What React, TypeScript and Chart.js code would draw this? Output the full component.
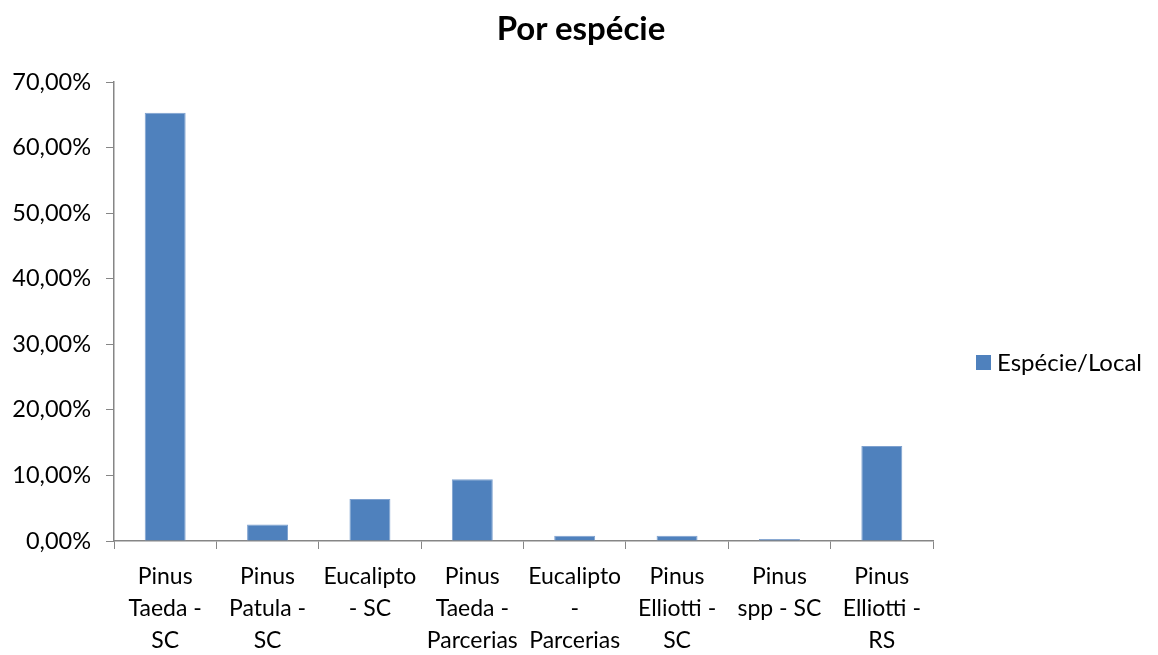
import React, { useEffect, useRef } from "react";
import { Chart, registerables } from "chart.js";

Chart.register(...registerables);

// Share of each species / location, in percent
const categories: string[][] = [
  ["Pinus", "Taeda -", "SC"],
  ["Pinus", "Patula -", "SC"],
  ["Eucalipto", "- SC"],
  ["Pinus", "Taeda -", "Parcerias"],
  ["Eucalipto", "-", "Parcerias"],
  ["Pinus", "Elliotti -", "SC"],
  ["Pinus", "spp - SC"],
  ["Pinus", "Elliotti -", "RS"],
];
const shares: number[] = [65.3, 2.5, 6.4, 9.4, 0.8, 0.8, 0.3, 14.5];
const seriesName = "Espécie/Local";
const chartTitle = "Por espécie";

const FONT = "Lato, 'Open Sans', sans-serif";
const BAR = "#4F81BD";
const AXIS = "#868686";

export default function App() {
  const canvasRef = useRef<HTMLCanvasElement | null>(null);

  useEffect(() => {
    document.body.style.margin = "0";
    const canvas = canvasRef.current;
    if (!canvas) return;
    const chart = new Chart(canvas, {
      type: "bar",
      data: {
        labels: categories,
        datasets: [
          {
            label: seriesName,
            data: shares,
            backgroundColor: BAR,
            borderColor: "#7EA1CF",
            borderWidth: 1,
            barPercentage: 0.4,
            categoryPercentage: 1,
          },
        ],
      },
      options: {
        responsive: false,
        animation: false,
        devicePixelRatio: 1,
        layout: { padding: { left: 0, right: 225, top: 82, bottom: 0 } },
        plugins: {
          legend: { display: false },
          tooltip: { enabled: false },
          title: { display: false },
        },
        scales: {
          x: {
            grid: {
              display: true,
              drawOnChartArea: false,
              drawTicks: true,
              offset: true,
              tickLength: 8,
              color: AXIS,
            },
            border: { display: true, color: AXIS, width: 1.5 },
            ticks: {
              color: "#000",
              padding: 12,
              maxRotation: 0,
              autoSkip: false,
              font: { family: FONT, size: 23, lineHeight: "32px" },
            },
            afterFit: (scale: any) => {
              scale.height = 114;
            },
          },
          y: {
            min: 0,
            max: 70,
            grid: {
              display: true,
              drawOnChartArea: false,
              drawTicks: true,
              tickLength: 8,
              color: AXIS,
            },
            border: { display: true, color: AXIS, width: 1.5 },
            ticks: {
              stepSize: 10,
              color: "#000",
              padding: 15,
              font: { family: FONT, size: 23.5 },
              callback: (v: any) => Number(v).toFixed(2).replace(".", ",") + "%",
            },
            afterFit: (scale: any) => {
              scale.width = 114;
            },
          },
        },
      },
    });
    return () => chart.destroy();
  }, []);

  return (
    <div style={{ position: "relative", width: 1158, height: 655, background: "#fff" }}>
      <canvas ref={canvasRef} width={1158} height={655} style={{ display: "block" }} />
      <div
        style={{
          position: "absolute",
          left: 0,
          top: 7,
          width: 1162,
          textAlign: "center",
          fontFamily: FONT,
          fontSize: 33,
          fontWeight: "bold",
          lineHeight: "40px",
          color: "#000",
        }}
      >
        {chartTitle}
      </div>
      <div
        style={{
          position: "absolute",
          left: 976,
          top: 346,
          height: 32,
          display: "flex",
          alignItems: "center",
          fontFamily: FONT,
          fontSize: 24,
          color: "#000",
          lineHeight: "32px",
        }}
      >
        <span style={{ width: 15, height: 15, background: BAR, display: "inline-block", marginRight: 6 }} />
        <span>{seriesName}</span>
      </div>
    </div>
  );
}
